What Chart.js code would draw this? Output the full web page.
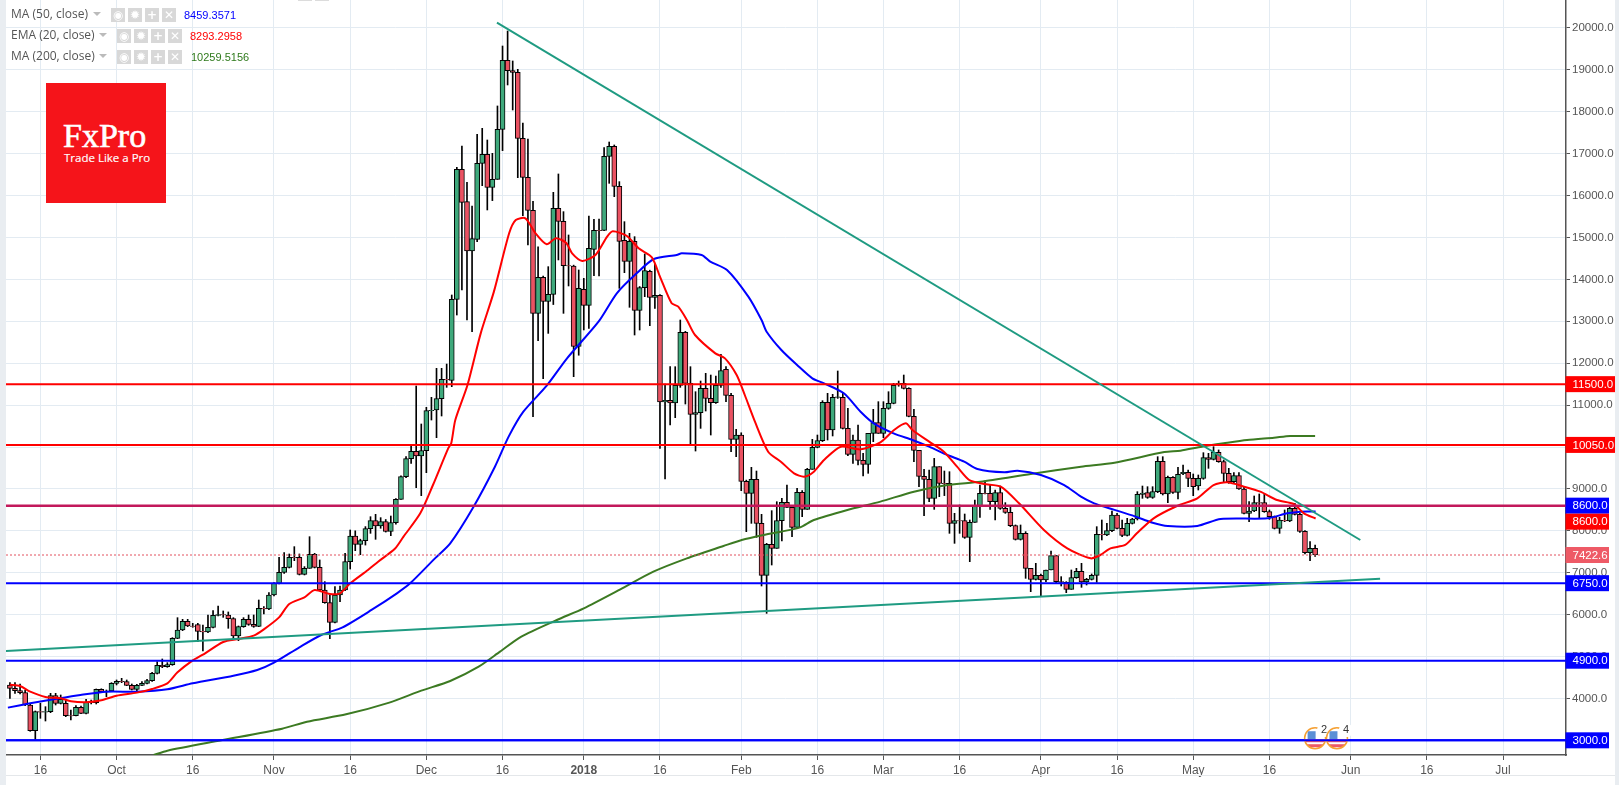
<!DOCTYPE html>
<html>
<head>
<meta charset="utf-8">
<title>BTCUSD FxPro</title>
<script src="https://cdn.jsdelivr.net/npm/chart.js@4/dist/chart.umd.min.js"></script>
<style>
html,body{margin:0;padding:0;background:#fff;overflow:hidden}
#wrap{position:relative;width:1619px;height:785px;overflow:hidden}
canvas{position:absolute;left:0;top:0}
.strip{position:absolute;top:0;height:785px;background:#e9edf1}
.lg{position:absolute;font:12px/16px "Open Sans",sans-serif;color:#555;white-space:nowrap}
.val{font:11px/16px "Liberation Sans",sans-serif;letter-spacing:0}
.ar{position:absolute;width:0;height:0;border-left:4px solid transparent;border-right:4px solid transparent;border-top:4px solid #bbb}
.ic{position:absolute;width:14px;height:14px;background:#d8d8d8;color:#fff;font:bold 12px/14px "DejaVu Sans",sans-serif;text-align:center}
#logo{position:absolute;left:46px;top:83px;width:120px;height:120px;background:#f5141a;color:#fff}
#logo .a{position:absolute;left:17px;top:35px;font:34px/36px "Liberation Serif",serif;-webkit-text-stroke:0.6px #fff}
#logo .b{position:absolute;left:18px;top:67px;font:11.5px/16px "Open Sans",sans-serif;-webkit-text-stroke:0.15px #fff}
</style>
</head>
<body>
<div id="wrap">
<canvas id="c" width="1619" height="785"></canvas>
<div class="strip" style="left:0;width:6px"></div>
<div class="strip" style="left:1615px;width:4px"></div>
<div style="position:absolute;left:6px;width:1609px;top:775px;height:1px;background:#e4e7ea"></div>
<div style="position:absolute;left:298px;top:0;width:14px;height:1px;background:#dcdcdc"></div>
<div style="position:absolute;left:315px;top:0;width:14px;height:1px;background:#dcdcdc"></div>

<div class="lg" style="left:11px;top:6px">MA (50, close)</div><div class="ar" style="left:93px;top:12px"></div>
<div class="ic" style="left:111px;top:8px">◉</div><div class="ic" style="left:128px;top:8px">✹</div><div class="ic" style="left:145px;top:8px">+</div><div class="ic" style="left:162px;top:8px">✕</div>
<div class="lg val" style="left:184px;top:7px;color:#0000ff">8459.3571</div>

<div class="lg" style="left:11px;top:27px">EMA (20, close)</div><div class="ar" style="left:99px;top:33px"></div>
<div class="ic" style="left:117px;top:29px">◉</div><div class="ic" style="left:134px;top:29px">✹</div><div class="ic" style="left:151px;top:29px">+</div><div class="ic" style="left:168px;top:29px">✕</div>
<div class="lg val" style="left:190px;top:28px;color:#ff0000">8293.2958</div>

<div class="lg" style="left:11px;top:48px">MA (200, close)</div><div class="ar" style="left:99px;top:54px"></div>
<div class="ic" style="left:117px;top:50px">◉</div><div class="ic" style="left:134px;top:50px">✹</div><div class="ic" style="left:151px;top:50px">+</div><div class="ic" style="left:168px;top:50px">✕</div>
<div class="lg val" style="left:191px;top:49px;color:#2f7a1c">10259.5156</div>

<div id="logo"><div class="a">FxPro</div><div class="b">Trade Like a Pro</div></div>
</div>
<script>
// Day 0 is 16 Sep 2017; one candle per day from day -6 to day 251.
const firstDay = -6;
const opens = [
4320,4241,4185,4138,3843,3231,3684,3670,3684,4066,
3883,3883,3589,3589,3788,3644,3907,3900,4217,4160,
4177,4360,4408,4400,4313,4217,4313,4360,4424,4599,
4790,4758,4806,5434,5633,5840,5729,5760,5601,5585,
5697,5983,5999,5991,5904,5490,5713,5888,5768,5721,
6150,6134,6468,6747,7009,7129,7367,7367,6962,7105,
7439,7129,6588,6285,5816,6468,6588,7263,7876,7677,
7765,8051,8242,8115,8218,7987,8194,8751,9292,9722,
9897,9785,9913,10867,10883,11153,11615,11590,13525,16627,
15855,14678,14957,16770,16985,16198,16388,17582,19228,18982,
18942,17367,16436,15649,13190,14050,13477,13644,15697,15386,
14328,14320,12400,13763,13382,14718,15171,15171,16937,17176,
16221,14933,14432,14909,13262,13803,14193,13572,13620,11074,
11114,11050,11472,12736,11519,10780,10820,11400,11161,11058,
11472,11853,11233,10183,10286,9180,8894,9228,8178,6937,
7677,7582,8242,8679,8560,8083,8918,8512,9467,9992,
10151,11066,10406,11185,11185,10446,9825,10167,9682,9586,
10326,10581,10326,10923,11042,11500,11520,11400,10732,9921,
9300,9228,8775,9531,9133,9133,8178,8242,8242,7844,
8202,8600,8894,8894,8695,8910,8536,8441,8123,7796,
7940,7104,6842,6937,6826,7065,7407,6786,6770,6604,
6882,7033,6778,6842,6937,7916,7900,8003,8377,8059,
7892,8178,8282,8870,8910,8799,8934,9658,8879,9276,
8918,9364,9396,9253,9070,9253,9746,9706,9873,9650,
9372,9173,9316,8998,8417,8473,8672,8672,8457,8338,
8059,8250,8235,8537,8393,7988,7479,7582];
const highs = [
4376,4376,4344,4201,3859,3700,3883,3803,4122,4122,
4082,3978,3724,3827,3819,3978,3963,4225,4230,4201,
4376,4440,4480,4440,4344,4336,4400,4456,4623,4877,
4941,4854,5450,5927,5888,5888,5792,5792,5752,5991,
6095,6206,6087,6063,5927,5729,5927,5991,5991,6349,
6190,6524,6763,7367,7479,7447,7622,7447,7145,7860,
7463,7304,6787,6468,6667,6683,7463,8019,8000,7800,
8100,8337,8393,8314,8270,8353,8770,9310,9769,10024,
11456,10549,10947,11185,11877,11877,11980,13628,16675,17184,
16317,15752,17462,17605,17327,17009,18139,19570,19928,19213,
19014,17733,17351,15863,14780,14081,14304,16078,16516,15617,
15060,14340,14225,14025,15514,15434,15442,17144,17279,17208,
16333,15378,15100,15020,13830,14607,14220,14368,13640,11503,
11917,11917,13031,12760,11917,11320,11575,11758,11718,11694,
12211,11917,11280,10421,10340,9210,9515,9427,8393,7700,
8481,8695,8775,9093,8600,9014,8960,9490,10183,10286,
11106,11281,11257,11814,11281,10923,10286,10525,9849,10326,
10899,11082,11082,11320,11520,11575,11718,11415,10899,9921,
9467,9450,9729,9531,9427,9411,8417,8616,8401,8258,
8735,9093,9189,9093,8975,9069,8672,8592,8140,8139,
7980,7104,7224,6970,7065,7518,7407,6906,6786,7065,
7105,7224,6866,6970,8099,8258,8178,8473,8417,8258,
8298,8298,8934,9069,9053,9053,9769,9769,9308,9292,
9515,9571,9450,9356,9332,9865,9849,10008,9930,9690,
9491,9388,9388,9040,8696,8831,8879,8879,8497,8354,
8322,8497,8592,8656,8417,8004,7741,7662];
const lows = [
4002,4122,4106,3827,3215,3008,3525,3461,3660,3843,
3867,3565,3485,3581,3636,3628,3867,3867,4138,4042,
4161,4321,4376,4305,4201,4161,4305,4344,4408,4583,
4734,4742,4790,5426,5617,5713,5697,5355,5132,5569,
5681,5967,5935,5673,5426,5379,5697,5745,5697,5713,
6015,6118,6445,6731,6985,7113,7288,6946,6946,7105,
7113,6572,6270,5426,5800,6309,6572,7088,7526,7430,
7660,7940,7797,8060,7970,7884,8160,8751,9270,9610,
9030,8839,9387,10644,10223,10740,11424,11440,13150,13748,
13030,12750,14900,16237,15657,15880,16388,17073,18640,18043,
16428,15521,14821,10724,12537,11630,12712,13400,14464,13190,
13843,11678,12190,12793,12833,14090,14081,15160,16293,15975,
13787,14161,13334,12673,12792,13588,12895,13310,9968,9236,
10525,10700,11424,11026,10032,9904,10445,10859,10286,11040,
11424,11082,9888,9769,8958,7979,8178,7844,6683,6030,
7184,7582,7757,8560,7860,8083,8337,8512,9467,9980,
10130,10167,10263,11160,10430,9793,9610,9571,9308,9372,
10127,10326,10223,10900,11030,11450,11385,10720,9650,9053,
8361,8695,8512,8815,8840,7940,7701,7940,7820,7263,
8202,8322,8880,8512,8258,8512,8417,8099,7780,7780,
6866,6548,6826,6444,6786,7065,6746,6683,6524,6604,
6866,6651,6707,6826,6770,7781,7884,7980,8043,7860,
7876,8162,8258,8775,8775,8775,8910,8855,8672,8894,
8759,9340,9054,8839,8974,9230,9491,9690,9635,9149,
9133,9149,8990,8401,8218,8457,8298,8441,8274,8043,
7940,8218,8218,8377,7964,7447,7288,7391];
const closes = [
4241,4185,4138,3843,3231,3684,3670,3684,4066,3883,
3978,3589,3580,3788,3644,3907,3900,4217,4160,4177,
4360,4408,4400,4313,4217,4313,4360,4424,4599,4790,
4758,4806,5434,5633,5840,5729,5720,5601,5585,5697,
5983,5999,5991,5904,5490,5713,5888,5768,5721,6150,
6134,6468,6747,7009,7129,7367,7360,6962,7105,7439,
7129,6588,6285,5816,6468,6588,7263,7876,7677,7765,
8051,8242,8115,8218,7987,8194,8751,9292,9722,9897,
9785,9913,10867,10875,11153,11615,11600,13525,16627,15840,
14678,14973,16770,16985,16198,16388,17582,19228,18982,18942,
17367,16436,15649,13190,14050,13477,13644,15697,15386,14328,
14320,12400,13787,13382,14742,15171,15164,16937,17176,16221,
14909,14432,14909,13262,13803,14209,13572,13620,11074,11114,
11050,11472,12736,11519,10780,10820,11400,11161,11058,11472,
11822,11233,10183,10286,9180,8894,9228,8178,6937,7677,
7582,8242,8679,8560,8083,8918,8512,9467,9992,10151,
11066,10406,11185,11200,10446,9825,10167,9682,9586,10326,
10581,10326,10923,11042,11472,11520,11400,10732,9921,9300,
9228,8775,9531,9133,9125,8178,8242,8235,7844,8202,
8600,8894,8885,8695,8910,8536,8441,8123,7796,7940,
7104,6842,6937,6826,7065,7407,6786,6770,6604,6882,
7033,6778,6842,6937,7916,7900,8003,8377,8059,7892,
8178,8282,8870,8900,8799,8934,9658,8879,9276,8918,
9348,9396,9253,9054,9253,9746,9706,9873,9650,9372,
9173,9316,8998,8417,8473,8672,8660,8457,8338,8059,
8258,8235,8537,8393,7988,7479,7582,7422.6];

const emaDays = [-6,-4,-2,1,4,6,9,12,15,19,22,25,27,30,32,36,39,42,44,47,49,52,54,57,59,61,64.5,66.5,69.8,71.5,74.8,77.3,80.3,80.9,81.7,84.1,86.7,89.3,92.3,93.6,95.5,97.5,99.7,101.5,103.5,104.7,106.7,109.3,111.6,112.7,115.5,117.8,120.4,122,124.3,125.6,127.3,128.9,132.9,134.8,137.1,138.7,140.7,143.3,145.8,148.4,150.4,152.3,154.3,157.6,161.5,165.4,168.1,170.4,171.7,175,177.9,180.5,182.9,185.8,189.1,192.7,197.6,202.2,206.8,208.7,210.7,213.6,215.9,219.2,223.8,227.8,231,233.7,237,240.2,243.5,246.8,248.8,251.1];
const emaVals = [4329,4297,4161,4034,4002,3931,3907,3955,4066,4138,4225,4360,4623,4909,5044,5347,5418,5498,5649,5935,6254,6413,6588,6492,6508,6747,7065,7263,7570,7860,8417,9093,9968,10087,10644,11479,12712,13708,15100,15418,15458,15100,14837,14980,14877,14622,14440,14583,15020,15147,15036,14742,14527,14066,13429,13350,13031,12673,12235,12116,11718,11241,10604,9888,9650,9372,9292,9411,9690,10008,9944,10111,10406,10565,10406,10127,9889,9531,9213,9117,9054,8656,8019,7582,7343,7423,7582,7662,7940,8298,8592,8775,9093,9157,9054,8934,8735,8640,8417,8293];
const ma50Days = [-6.4,-2,2.6,7.9,13,19,25,30,38,42.7,46,51,55.3,59.5,65.2,70.2,72.8,77.7,80.7,85.3,89.5,92.2,95.1,99.7,103.7,109.9,113.5,117.4,120.8,125.3,126.3,130.2,131.9,135.2,139.4,142,143,145.9,149,152,154.3,158.2,161.5,164.1,168,171.7,175,178.6,181.9,184.5,189.8,192.4,197,201.6,204.9,207.5,211.5,215.4,219,222,227.8,232.4,241.6,245.5,248.1,251.1];
const ma50Vals = [3780,3883,3978,4082,4161,4161,4217,4360,4543,4678,4853,5220,5514,5697,6111,6508,6746,7343,7701,8576,9530,10247,10843,11464,12116,12991,13668,14145,14487,14583,14622,14583,14424,14225,13588,13031,12752,12315,11957,11639,11520,11281,10843,10565,10326,10167,10008,9809,9650,9475,9395,9435,9332,9093,8815,8656,8500,8350,8194,8115,8115,8282,8298,8417,8457,8459];
const ma200Days = [22.3,25,35.6,47.6,52.5,60.2,68.7,75,80.7,86.3,90.5,94.7,101.7,107,114.2,120.7,127.3,134.5,138.1,142.4,145.8,149.6,152.3,158.9,165.4,172,178.6,185.1,195,204.9,211.5,221.3,224.5,228.7,233,237.6,242.9,246.1,251];
const ma200Vals = [2650,2753,3000,3278,3445,3620,3899,4185,4416,4758,5116,5474,5871,6150,6603,7025,7343,7637,7780,7900,7979,8083,8258,8497,8696,8934,9093,9173,9356,9531,9626,9881,9913,10008,10088,10167,10223,10263,10260];

const trendDownDays = [89.9,259.9];
const trendDownVals = [20127,7781];
const trendUpDays = [-6.8,263.8];
const trendUpVals = [5131,6857];

const redLevels = [11500,10050];
const purpleLevels = [8600];
const blueLevels = [6750,4900,3000];
const lastPrice = 7422.6;

const priceTicks = [3000,4000,5000,6000,7000,8000,9000,10000,11000,12000,13000,14000,15000,16000,17000,18000,19000,20000];
const timeTickDays = [0,15,30,46,61,76,91,107,122,138,153,166,181,197,212,227,242,258,273,288];
const timeTickLabels = ['16','Oct','16','Nov','16','Dec','16','2018','16','Feb','16','Mar','16','Apr','16','May','16','Jun','16','Jul'];

const badgeValues = [11500,10050,8600,8600,7422.6,6750,4900,3000];
const badgeTexts = ['11500.0','10050.0','8600.0','8600.0','7422.6','6750.0','4900.0','3000.0'];
const badgeColors = ['#ff0000','#ff0000','#0000ff','#ff0000','#ee5a66','#0000ff','#0000ff','#0000ff'];
const eventDays = [251,255.3];
const eventPrice = 3050;
const eventBadges = ['2','4'];

const days = opens.map((_, i) => i + firstDay);
const xy = (xs, ys) => xs.map((x, i) => ({x, y: ys[i]}));
const xMin = -6.77, xMax = 300.4;
const level = v => [{x: xMin, y: v}, {x: xMax, y: v}];
const levelSet = (v, color, width) => ({type:'line', data: level(v), borderColor: color, borderWidth: width, pointRadius: 0, order: 2});

const datasets = [
  {type:'bar', label:'wick', data: days.map((d,i)=>({x:d,y:[lows[i],highs[i]]})), backgroundColor:'#000', borderWidth:0, barThickness:1, order:10},
  {type:'bar', label:'body', data: days.map((d,i)=>({x:d,y:[opens[i],closes[i]]})),
   backgroundColor: days.map((d,i)=> closes[i] >= opens[i] ? '#3fa97c' : '#ea5262'),
   borderColor:'#000', borderWidth:1, borderSkipped:false, barThickness:5, order:9},
  {type:'line', label:'MA 200', data: xy(ma200Days, ma200Vals), borderColor:'#3c7a22', borderWidth:2, pointRadius:0, tension:0.25, order:5},
  {type:'line', label:'MA 50', data: xy(ma50Days, ma50Vals), borderColor:'#0000ff', borderWidth:2, pointRadius:0, tension:0.25, order:4},
  {type:'line', label:'EMA 20', data: xy(emaDays, emaVals), borderColor:'#ff0000', borderWidth:2, pointRadius:0, tension:0.25, order:3},
  ...redLevels.map(v => levelSet(v,'#ff0000',2)),
  ...purpleLevels.map(v => levelSet(v,'#c2185b',2.5)),
  ...blueLevels.map(v => levelSet(v,'#0000ff',2)),
  {type:'line', label:'last', data: level(lastPrice), borderColor:'#e2505e', borderWidth:1, borderDash:[2,2], pointRadius:0, order:2},
  {type:'line', label:'down', data: xy(trendDownDays, trendDownVals), borderColor:'#1f9b82', borderWidth:2, pointRadius:0, order:1},
  {type:'line', label:'up', data: xy(trendUpDays, trendUpVals), borderColor:'#1f9b82', borderWidth:2, pointRadius:0, order:1}
];

const overlay = {
  id:'overlay',
  afterDatasetsDraw(chart){
    const {ctx, scales:{x,y}} = chart;
    eventDays.forEach((d,i)=>{
      const cx = x.getPixelForValue(d), cy = y.getPixelForValue(eventPrice), r = 10.5;
      ctx.save();
      ctx.beginPath(); ctx.arc(cx,cy,r,0,Math.PI*2); ctx.fillStyle='#fff'; ctx.fill(); ctx.clip();
      ctx.fillStyle='#ee5a66'; ctx.fillRect(cx-r,cy+1,2*r,3); ctx.fillRect(cx-r,cy+6,2*r,3);
      ctx.fillStyle='#5b8fd6'; ctx.fillRect(cx-r+3,cy-7,8,8);
      ctx.restore();
      ctx.beginPath(); ctx.arc(cx,cy,r,0,Math.PI*2); ctx.strokeStyle='#f5a033'; ctx.lineWidth=1.5; ctx.stroke();
      ctx.beginPath(); ctx.arc(cx+9,cy-8,7,0,Math.PI*2); ctx.fillStyle='#fff'; ctx.fill();
      ctx.fillStyle='#333'; ctx.font='11px "Liberation Sans"'; ctx.textAlign='center'; ctx.textBaseline='middle';
      ctx.fillText(eventBadges[i],cx+9,cy-8);
    });
    ctx.textAlign='left';
    const lv = y.getPixelForValue(3000);
    ctx.beginPath(); ctx.moveTo(chart.chartArea.left,lv); ctx.lineTo(chart.chartArea.right,lv);
    ctx.strokeStyle='#0000ff'; ctx.lineWidth=2; ctx.stroke();
  },
  afterDraw(chart){
    const {ctx, scales:{y}, chartArea} = chart;
    let prev = null;
    badgeValues.forEach((v,i)=>{
      let py = y.getPixelForValue(v);
      if (prev !== null && Math.abs(py-prev) < 16) py = prev + 16;
      prev = py;
      const text = badgeTexts[i];
      const w = text.length > 6 ? 49.5 : 43.5;
      ctx.fillStyle = badgeColors[i];
      ctx.fillRect(chartArea.right-0.5, py-8, w, 16);
      ctx.fillStyle = '#fff';
      ctx.font = '11.5px "Liberation Sans"';
      ctx.textAlign = 'left'; ctx.textBaseline = 'middle';
      ctx.fillText(text, chartArea.right+6.5, py+0.5);
    });
  }
};

new Chart(document.getElementById('c'), {
  type:'bar',
  data:{datasets},
  plugins:[overlay],
  options:{
    responsive:false, animation:false, devicePixelRatio:1,
    parsing:{xAxisKey:'x',yAxisKey:'y'},
    datasets:{bar:{grouped:false}},
    layout:{autoPadding:false,padding:{left:6,right:0,top:0,bottom:0}},
    plugins:{legend:{display:false},tooltip:{enabled:false}},
    scales:{
      x:{type:'linear',min:xMin,max:xMax,offset:false,
        afterBuildTicks(s){s.ticks = timeTickDays.map(value=>({value}));},
        afterFit(s){s.height = 30; s.paddingLeft = 0; s.paddingRight = 0;},
        grid:{color:'#e3ebf2',lineWidth:1,offset:false,tickColor:'#555',tickLength:5},
        border:{color:'#555',width:1.5},
        ticks:{autoSkip:false,maxRotation:0,padding:3,color:'#555',
          font:c=>({family:'"Liberation Sans"',size:12,weight:timeTickLabels[c.index]==='2018'?'bold':'normal'}),
          callback:(v,i)=>timeTickLabels[i]}
      },
      y:{type:'linear',position:'right',min:2649.6,max:20668,
        afterBuildTicks(s){s.ticks = priceTicks.map(value=>({value}));},
        afterFit(s){s.width = 53; s.paddingTop = 0; s.paddingBottom = 0;},
        grid:{color:'#e3ebf2',lineWidth:1,tickColor:'#555',tickLength:4},
        border:{color:'#555',width:1.5},
        ticks:{padding:2,color:'#555',font:{family:'"Liberation Sans"',size:11.5},callback:v=>v.toFixed(1)}
      }
    }
  }
});
</script>
</body>
</html>
